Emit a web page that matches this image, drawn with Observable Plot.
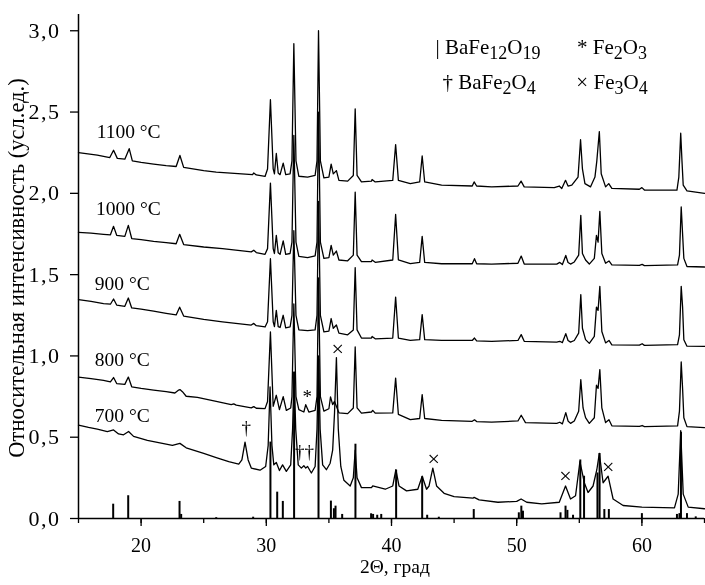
<!DOCTYPE html>
<html><head><meta charset="utf-8">
<script src="https://cdn.jsdelivr.net/npm/d3@7"></script>
<script src="https://cdn.jsdelivr.net/npm/@observablehq/plot@0.6"></script>
<style>html,body{margin:0;padding:0;background:#fff;overflow:hidden} #chart svg{display:block;will-change:transform}</style>
</head><body><div id="chart"></div>
<script>
// ---- data: [2theta, intensity]
const c1100 = [[15,2.25],[16.5,2.235],[17.5,2.22],[17.8,2.265],[18.1,2.215],[18.7,2.21],[19.05,2.275],[19.3,2.2],[20,2.19],[21,2.18],[22,2.17],[22.8,2.165],[23.1,2.233],[23.4,2.16],[25,2.14],[26,2.13],[28.9,2.115],[29.0,2.125],[29.2,2.113],[29.9,2.104],[30.1,2.15],[30.33,2.576],[30.55,2.15],[30.65,2.12],[30.8,2.245],[30.95,2.125],[31.1,2.115],[31.35,2.186],[31.55,2.115],[31.9,2.12],[32.05,2.2],[32.2,2.92],[32.37,2.2],[32.6,2.105],[33.3,2.1],[33.9,2.11],[34.05,2.2],[34.17,3.0],[34.32,2.2],[34.6,2.095],[35.0,2.1],[35.18,2.18],[35.35,2.12],[35.6,2.14],[35.8,2.08],[36.5,2.075],[36.95,2.11],[37.1,2.52],[37.25,2.11],[37.6,2.07],[38.4,2.075],[38.45,2.085],[38.7,2.07],[40.1,2.08],[40.33,2.3],[40.55,2.08],[41.5,2.06],[42.25,2.07],[42.45,2.23],[42.65,2.07],[44,2.05],[46.45,2.045],[46.6,2.07],[46.8,2.045],[48,2.04],[50.1,2.045],[50.35,2.075],[50.6,2.04],[53,2.035],[53.4,2.045],[53.6,2.03],[53.9,2.08],[54.1,2.045],[54.4,2.05],[54.9,2.1],[55.1,2.33],[55.25,2.15],[55.45,2.06],[55.9,2.04],[56.25,2.1],[56.4,2.2],[56.6,2.38],[56.75,2.12],[57.1,2.04],[57.35,2.06],[57.6,2.03],[59.8,2.025],[60.0,2.035],[60.2,2.02],[62.8,2.02],[62.95,2.1],[63.1,2.37],[63.2,2.2],[63.3,2.05],[63.6,2.015],[65,2.0]];
const c1000 = [[15,1.76],[16,1.755],[17,1.748],[17.55,1.745],[17.8,1.797],[18.05,1.742],[18.7,1.735],[18.98,1.803],[19.25,1.722],[20,1.715],[21,1.705],[22,1.697],[22.8,1.69],[23.08,1.748],[23.4,1.685],[25,1.67],[26.5,1.66],[28.8,1.64],[29.0,1.65],[29.2,1.636],[29.9,1.625],[30.1,1.66],[30.33,2.063],[30.55,1.66],[30.65,1.63],[30.8,1.742],[30.95,1.635],[31.1,1.625],[31.35,1.707],[31.55,1.625],[31.9,1.63],[32.05,1.7],[32.2,2.357],[32.37,1.7],[32.6,1.612],[33.3,1.605],[33.9,1.615],[34.05,1.7],[34.17,2.5],[34.32,1.7],[34.6,1.6],[35.0,1.605],[35.18,1.68],[35.35,1.62],[35.6,1.645],[35.8,1.59],[36.5,1.585],[36.95,1.62],[37.1,2.008],[37.25,1.62],[37.6,1.58],[38.4,1.58],[38.45,1.59],[38.7,1.576],[40.1,1.59],[40.33,1.87],[40.55,1.59],[41.5,1.568],[42.25,1.575],[42.45,1.735],[42.65,1.575],[44,1.567],[46.45,1.567],[46.63,1.598],[46.8,1.567],[48,1.565],[50.1,1.57],[50.36,1.614],[50.6,1.565],[53.2,1.565],[53.44,1.575],[53.65,1.562],[53.92,1.618],[54.1,1.575],[54.3,1.565],[54.6,1.578],[54.95,1.62],[55.12,1.865],[55.25,1.63],[55.5,1.59],[55.8,1.565],[56.2,1.6],[56.37,1.742],[56.5,1.7],[56.64,1.889],[56.8,1.63],[57.1,1.57],[57.37,1.584],[57.6,1.56],[59.8,1.557],[60.02,1.563],[60.2,1.555],[62.85,1.56],[63.0,1.62],[63.14,1.916],[63.25,1.75],[63.35,1.6],[63.6,1.55],[65,1.547]];
const c900 = [[15,1.346],[16,1.335],[17,1.322],[17.55,1.318],[17.8,1.35],[18.05,1.313],[18.7,1.305],[18.98,1.356],[19.25,1.295],[20,1.288],[21,1.275],[22,1.262],[22.8,1.252],[23.08,1.3],[23.4,1.245],[25,1.225],[26.5,1.21],[28.8,1.19],[29.0,1.2],[29.2,1.186],[29.9,1.178],[30.1,1.21],[30.33,1.598],[30.55,1.21],[30.65,1.18],[30.8,1.28],[30.95,1.18],[31.1,1.175],[31.35,1.25],[31.55,1.172],[31.9,1.178],[32.05,1.25],[32.2,1.77],[32.37,1.25],[32.6,1.16],[33.3,1.155],[33.9,1.16],[34.05,1.25],[34.17,1.95],[34.32,1.25],[34.6,1.148],[35.0,1.152],[35.18,1.23],[35.35,1.17],[35.6,1.19],[35.8,1.14],[36.5,1.13],[36.95,1.16],[37.1,1.543],[37.25,1.16],[37.6,1.11],[38.4,1.11],[38.45,1.12],[38.7,1.105],[40.1,1.11],[40.33,1.362],[40.55,1.11],[41.5,1.095],[42.25,1.1],[42.45,1.254],[42.65,1.1],[44,1.095],[46.45,1.095],[46.63,1.11],[46.8,1.093],[48,1.09],[50.1,1.095],[50.36,1.131],[50.6,1.09],[53.2,1.085],[53.44,1.09],[53.65,1.082],[53.92,1.137],[54.1,1.095],[54.3,1.085],[54.6,1.095],[54.95,1.14],[55.12,1.377],[55.25,1.17],[55.5,1.1],[55.8,1.077],[56.2,1.12],[56.37,1.3],[56.5,1.28],[56.64,1.428],[56.8,1.15],[57.1,1.08],[57.37,1.095],[57.6,1.068],[59.8,1.066],[60.02,1.075],[60.2,1.065],[62.85,1.07],[63.0,1.13],[63.14,1.428],[63.25,1.3],[63.35,1.1],[63.6,1.06],[65,1.059]];
const c800 = [[15,0.87],[16,0.86],[17,0.85],[17.55,0.84],[17.8,0.867],[18.05,0.83],[18.7,0.825],[18.98,0.87],[19.25,0.81],[20,0.8],[21,0.79],[22,0.78],[22.7,0.772],[23.0,0.79],[23.1,0.793],[23.3,0.78],[23.6,0.752],[24.5,0.745],[26,0.72],[27.2,0.7],[27.4,0.705],[27.6,0.697],[28.8,0.68],[29.0,0.688],[29.2,0.678],[29.9,0.676],[30.1,0.72],[30.33,1.147],[30.55,0.69],[30.8,0.758],[31.05,0.67],[31.35,0.75],[31.6,0.665],[31.95,0.68],[32.05,0.75],[32.2,1.32],[32.37,0.75],[32.6,0.67],[33.0,0.655],[33.15,0.7],[33.4,0.655],[33.9,0.665],[34.05,0.75],[34.17,1.48],[34.32,0.75],[34.6,0.66],[35.0,0.675],[35.13,0.748],[35.3,0.7],[35.45,0.72],[35.8,0.65],[36.5,0.645],[36.95,0.68],[37.1,1.055],[37.25,0.68],[37.6,0.648],[38.4,0.655],[38.5,0.665],[38.7,0.648],[40.1,0.65],[40.33,0.864],[40.55,0.64],[41.5,0.608],[42.25,0.615],[42.45,0.762],[42.65,0.615],[44,0.603],[46.45,0.598],[46.63,0.607],[46.8,0.596],[48,0.593],[50.1,0.6],[50.36,0.635],[50.7,0.59],[53.2,0.585],[53.44,0.592],[53.65,0.582],[53.92,0.651],[54.1,0.6],[54.3,0.585],[54.6,0.6],[54.95,0.66],[55.12,0.854],[55.3,0.68],[55.5,0.62],[55.8,0.585],[56.2,0.62],[56.37,0.82],[56.5,0.8],[56.64,0.916],[56.8,0.68],[57.1,0.59],[57.37,0.608],[57.6,0.57],[59.8,0.567],[60.02,0.572],[60.2,0.565],[62.85,0.57],[63.0,0.66],[63.14,0.963],[63.25,0.8],[63.35,0.62],[63.6,0.565],[65,0.559]];
const c700 = [[15,0.574],[15.8,0.56],[16.5,0.55],[17.3,0.535],[17.8,0.545],[18.2,0.52],[18.6,0.515],[19.0,0.535],[19.4,0.505],[20.5,0.48],[21.5,0.465],[22.5,0.45],[23.1,0.462],[23.6,0.435],[25,0.4],[26,0.375],[27,0.35],[27.8,0.335],[28.05,0.36],[28.3,0.47],[28.55,0.36],[28.8,0.31],[29.5,0.297],[29.95,0.32],[30.15,0.45],[30.3,0.81],[30.45,0.45],[30.6,0.33],[30.8,0.345],[31.05,0.295],[31.3,0.33],[31.6,0.29],[31.95,0.33],[32.1,0.55],[32.22,0.9],[32.35,0.55],[32.55,0.33],[32.8,0.31],[33.0,0.325],[33.15,0.31],[33.3,0.32],[33.6,0.28],[33.9,0.32],[34.05,0.55],[34.17,1.0],[34.3,0.55],[34.5,0.33],[34.8,0.3],[35.1,0.34],[35.3,0.42],[35.45,0.65],[35.6,0.99],[35.75,0.55],[35.95,0.32],[36.2,0.235],[36.7,0.2],[36.95,0.25],[37.1,0.42],[37.25,0.25],[37.6,0.19],[38.4,0.19],[38.5,0.2],[39.5,0.18],[40.1,0.2],[40.35,0.3],[40.6,0.2],[41.2,0.17],[42.1,0.18],[42.45,0.26],[42.8,0.18],[43.0,0.2],[43.3,0.31],[43.6,0.2],[44.2,0.155],[45,0.135],[46.5,0.125],[46.6,0.13],[47,0.115],[48.5,0.1],[50.0,0.105],[50.35,0.12],[50.8,0.1],[52,0.09],[53.4,0.1],[53.9,0.2],[54.3,0.12],[54.7,0.14],[55.05,0.35],[55.4,0.22],[55.7,0.16],[56.1,0.2],[56.4,0.3],[56.6,0.4],[56.9,0.22],[57.3,0.26],[57.7,0.12],[58.5,0.08],[60,0.07],[62.6,0.065],[62.9,0.15],[63.1,0.54],[63.3,0.15],[63.7,0.07],[65,0.06]];

// reference pattern (BaFe12O19) sticks
const stickPos = [17.77,18.97,23.07,23.2,26.0,28.95,30.33,30.87,31.32,32.22,34.17,35.16,35.4,35.53,36.06,37.12,38.37,38.53,38.86,39.18,40.37,42.45,42.85,43.78,46.57,50.17,50.37,50.5,53.5,53.9,54.05,54.5,55.08,55.38,56.45,56.62,57.0,57.36,60.0,62.8,63.0,63.12,63.6,64.3];
const stickH   = [0.088,0.14,0.105,0.025,0.005,0.008,0.47,0.162,0.105,0.9,0.98,0.107,0.06,0.076,0.025,0.457,0.029,0.025,0.02,0.025,0.297,0.256,0.02,0.008,0.055,0.035,0.076,0.045,0.035,0.076,0.05,0.02,0.36,0.26,0.28,0.4,0.055,0.055,0.03,0.025,0.03,0.53,0.03,0.01];

const curves = [c700, c800, c900, c1000, c1100];
const curveNames = ["700 °C","800 °C","900 °C","1000 °C","1100 °C"];
const labelX = [16.3,16.3,16.3,16.4,16.45];
const labelY = [0.595,0.935,1.408,1.865,2.34];

// phase markers
const daggerText = ["†","††","*"];
const daggerX = [28.39,33.05,33.27];
const daggerY = [0.56,0.41,0.748];
const crossX = [35.71,43.38,53.9,57.3];
const crossY = [1.04,0.369,0.26,0.32];

const xTicks = [20,30,40,50,60];
const xMinor = [15,20,25,30,35,40,45,50,55,60,65];
const yTicks = [0,0.5,1,1.5,2,2.5,3];
const yTickLabels = ["0,0","0,5","1,0","1,5","2,0","2,5","3,0"];
const xTitle = "2Θ, град";
const yTitle = "Относительная интенсивность (усл.ед.)";

const FONT = "Liberation Serif, Tinos, Times New Roman, serif";

const lineMarks = curves.map(c => Plot.line(c, {x: d => d[0], y: d => d[1], stroke: "#000", strokeWidth: 1.3}));

const plot = Plot.plot({
  width: 705, height: 585,
  marginLeft: 78, marginRight: 1, marginTop: 14, marginBottom: 67,
  x: {domain: [15, 65], label: null},
  y: {domain: [0, 3.1], label: null},
  style: {fontFamily: FONT, fontSize: "20px", color: "#000", background: "#fff"},
  marks: [
    Plot.axisX({ticks: xMinor, tickSize: 5, tickFormat: () => "", strokeWidth: 1.3, label: null}),
    Plot.axisX({ticks: xTicks, tickSize: 8, tickPadding: 11, fontSize: 20, fontFamily: FONT, strokeWidth: 1.3, label: null}),
    Plot.axisY({ticks: yTicks, tickSize: 8, tickPadding: 10, fontSize: 22, fontFamily: FONT, strokeWidth: 1.3, label: null,
      tickFormat: d => yTickLabels[yTicks.indexOf(d)]}),
    Plot.ruleX(stickPos, {x: d => d, y1: 0, y2: (d, i) => stickH[i], stroke: "#000", strokeWidth: 2}),
    ...lineMarks,
    Plot.text(curveNames, {x: (d, i) => labelX[i], y: (d, i) => labelY[i], text: d => d, textAnchor: "start", lineAnchor: "bottom", fontSize: 19.5, fontFamily: FONT, fill: "#000"}),
    Plot.text(daggerText, {x: (d, i) => daggerX[i], y: (d, i) => daggerY[i], text: d => d, lineAnchor: "middle", fontSize: 19, fontFamily: FONT, fill: "#000"}),
    Plot.text(crossX, {x: d => d, y: (d, i) => crossY[i], text: () => "×", lineAnchor: "middle", fontSize: 22, fontFamily: FONT, fill: "#000"}),
    Plot.ruleY([0], {stroke: "#000", strokeWidth: 1.5}),
    Plot.ruleX([15], {stroke: "#000", strokeWidth: 1.5})
  ]
});
document.getElementById("chart").appendChild(plot);

// y tick labels: slightly wider spacing as in the original
d3.select(plot).selectAll("g[aria-label='y-axis tick label'] text").style("letter-spacing", "1.5px");

// titles and legend (rich text with subscripts)
const svg = d3.select(plot);
svg.append("text").attr("x", 395).attr("y", 573).attr("text-anchor", "middle")
  .style("font-family", FONT).attr("font-size", 19.5).text(xTitle);
svg.append("text").attr("transform", "translate(24,268) rotate(-90)").attr("text-anchor", "middle")
  .style("font-family", FONT).attr("font-size", 22.5).text(yTitle);

const legendRows = [
  {x: 488, y: 54, parts: [["| BaFe",""],["12","sub"],["O",""],["19","sub"]]},
  {x: 612, y: 54, parts: [["* Fe",""],["2","sub"],["O",""],["3","sub"]]},
  {x: 489, y: 89, parts: [["† BaFe",""],["2","sub"],["O",""],["4","sub"]]},
  {x: 612, y: 89, parts: [["× Fe",""],["3","sub"],["O",""],["4","sub"]]}
];
legendRows.forEach(r => {
  const t = svg.append("text").attr("x", r.x).attr("y", r.y).style("font-family", FONT).attr("font-size", 21);
  let shifted = false;
  r.parts.forEach(([s, k]) => {
    const sub = k === "sub";
    const dy = sub && !shifted ? 5 : (!sub && shifted ? -5 : 0);
    shifted = sub;
    t.append("tspan").attr("dy", dy).attr("font-size", sub ? 18 : 21).text(s);
  });
});
</script>
</body></html>
